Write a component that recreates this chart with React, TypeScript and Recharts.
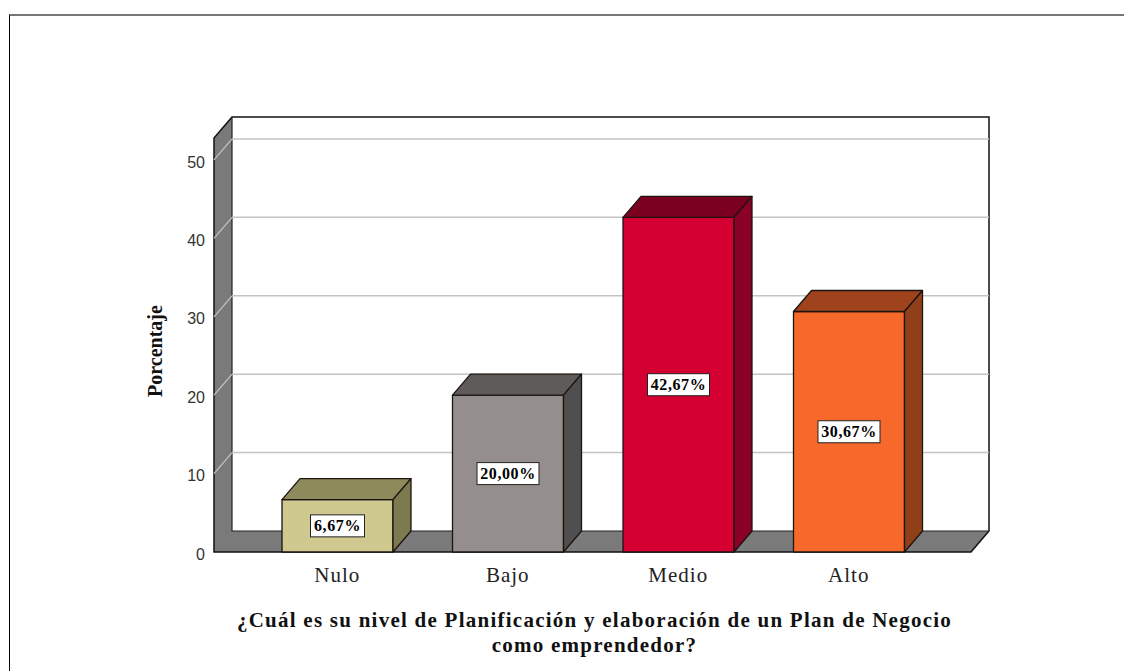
import { BarChart, Bar, XAxis, YAxis, CartesianGrid, LabelList, ReferenceArea } from "recharts";

const categories = ["Nulo", "Bajo", "Medio", "Alto"];
const percentages = [6.67, 20.0, 42.67, 30.67];
const percentLabels = ["6,67%", "20,00%", "42,67%", "30,67%"];
const yTicks = [0, 10, 20, 30, 40, 50];
const xTitleLines = [
  "¿Cuál es su nivel de Planificación y elaboración de un Plan de Negocio",
  "como emprendedor?",
];

const FRONT_COLORS = ["#cfc98f", "#948f8c", "#d40032", "#f7692a"];
const TOP_COLORS = ["#8f8a5c", "#5e5b5a", "#7b0020", "#9e431c"];
const SIDE_COLORS = ["#7d7a50", "#4f4f4f", "#8a0026", "#8f4018"];

const DX = 18;
const DY = 21;
const PAD_LEFT = 38;
const PAD_RIGHT = 37;
const EDGE = "#1c1410";
const WALL = "#7a7a7a";

const chartData = categories.map((name, i) => ({
  name,
  value: percentages[i],
  label: percentLabels[i],
}));

function Walls({ x: rawX, y, width: rawWidth, height }: any) {
  // the area comes back inside the axis padding, the walls run the whole plot
  const x = rawX - PAD_LEFT;
  const width = rawWidth + PAD_LEFT + PAD_RIGHT;
  const b = y + height;
  const r = x + width;
  return (
    <g>
      <polygon
        points={`${x},${y} ${x + DX},${y - DY} ${x + DX},${b - DY} ${r + DX},${b - DY} ${r},${b} ${x},${b}`}
        fill={WALL}
        stroke="none"
      />
      <path
        d={`M${x},${b} L${x},${y} L${x + DX},${y - DY} L${r + DX},${y - DY} L${r + DX},${b - DY} L${r},${b} Z`}
        fill="none"
        stroke="#111"
        strokeWidth={1.5}
      />
      <path d={`M${x + DX},${y - DY} V${b - DY} H${r + DX}`} fill="none" stroke="#222" strokeWidth={1.2} />
    </g>
  );
}

function GridLine({ x1, x2, y1, index }: any) {
  // no line at zero, the floor covers it
  if (index === 0) return <g />;
  return (
    <g>
      <line x1={x1} y1={y1} x2={x1 + DX} y2={y1 - DY} stroke="#c4c4c4" strokeWidth={1.2} />
      <line x1={x1 + DX} y1={y1 - DY} x2={x2 + DX} y2={y1 - DY} stroke="#c4c4c4" strokeWidth={1.5} />
    </g>
  );
}

function Box3D({ x, y, width, height, index }: any) {
  const b = y + height;
  const r = x + width;
  return (
    <g stroke={EDGE} strokeWidth={1.3} strokeLinejoin="round">
      <rect x={x} y={y} width={width} height={height} fill={FRONT_COLORS[index]} />
      <polygon
        points={`${x},${y} ${x + DX},${y - DY} ${r + DX},${y - DY} ${r},${y}`}
        fill={TOP_COLORS[index]}
      />
      <polygon
        points={`${r},${y} ${r + DX},${y - DY} ${r + DX},${b - DY} ${r},${b}`}
        fill={SIDE_COLORS[index]}
      />
    </g>
  );
}

function ValueBox({ x, y, width, height, value }: any) {
  const cx = x + width / 2;
  const cy = y + height / 2;
  const w = String(value).length > 5 ? 62 : 54;
  return (
    <g>
      <rect x={cx - w / 2} y={cy - 11} width={w} height={22} fill="#fff" stroke="#222" strokeWidth={1} />
      <text
        x={cx}
        y={cy + 5.5}
        textAnchor="middle"
        fontFamily="'Liberation Serif', serif"
        fontWeight="bold"
        fontSize={16}
        letterSpacing={0.6}
        fill="#000"
      >
        {value}
      </text>
    </g>
  );
}

function XTitle({ viewBox }: any) {
  const cx = viewBox.x + viewBox.width / 2 + 2;
  const top = viewBox.y;
  return (
    <text
      textAnchor="middle"
      fontFamily="'Liberation Serif', serif"
      fontWeight="bold"
      fontSize={21}
      letterSpacing={1.25}
      fill="#111"
    >
      {xTitleLines.map((line, i) => (
        <tspan key={line} x={cx} y={top + 75 + i * 25}>
          {line}
        </tspan>
      ))}
    </text>
  );
}

export default function App() {
  return (
    <div style={{ position: "absolute", left: 0, top: 0, width: 1124, height: 671, background: "#fff", overflow: "hidden" }}>
      <div
        style={{
          position: "absolute",
          left: 9,
          top: 14,
          right: 0,
          bottom: 0,
          borderTop: "2px solid #777",
          borderLeft: "1px solid #000",
        }}
      />
      <BarChart
        width={1124}
        height={671}
        data={chartData}
        margin={{ top: 138, right: 153, bottom: 0, left: 144 }}
        style={{ position: "absolute", left: 0, top: 0 }}
      >
        <ReferenceArea y1={0} y2={52.8} shape={<Walls />} ifOverflow="visible" zIndex={-200} />
        <CartesianGrid vertical={false} horizontal={(p: any) => <GridLine key={p.index} {...p} />} syncWithTicks />
        <XAxis
          dataKey="name"
          height={119}
          axisLine={false}
          tickLine={false}
          tickSize={0}
          tickMargin={15}
          padding={{ left: PAD_LEFT, right: PAD_RIGHT }}
          tick={{ fontFamily: "'Liberation Serif', serif", fontSize: 21, letterSpacing: 1, fill: "#222" }}
          label={<XTitle />}
        />
        <YAxis
          type="number"
          domain={[0, 52.8]}
          ticks={yTicks}
          width={70}
          axisLine={false}
          tickLine={false}
          tickSize={0}
          tickMargin={9}
          tick={{ fontFamily: "'Liberation Sans', sans-serif", fontSize: 16, fill: "#333", dy: 2 }}
          label={{
            value: "Porcentaje",
            angle: -90,
            position: "insideLeft",
            dx: 6,
            dy: 6,
            style: { fontFamily: "'Liberation Serif', serif", fontWeight: "bold", fontSize: 20, fill: "#111", textAnchor: "middle" },
          }}
        />
        <Bar dataKey="value" barSize={111} shape={<Box3D />} isAnimationActive={false}>
          <LabelList dataKey="label" content={<ValueBox />} />
        </Bar>
      </BarChart>
    </div>
  );
}
